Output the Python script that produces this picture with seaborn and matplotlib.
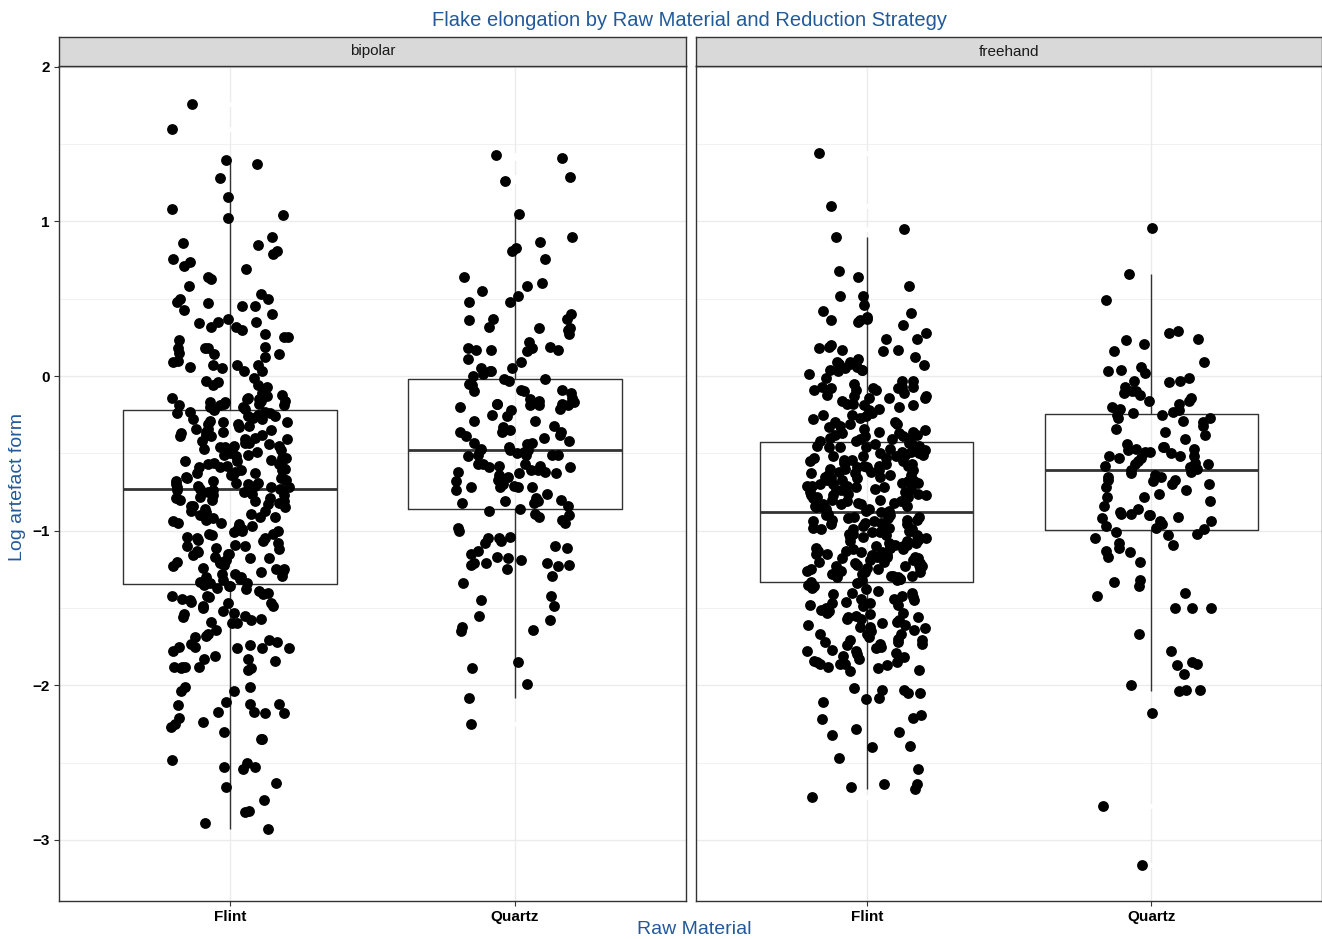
import numpy as np
import pandas as pd
import matplotlib
matplotlib.use("Agg")
import matplotlib.pyplot as plt
import seaborn as sns
from matplotlib.ticker import MultipleLocator

sns.set_theme(style="white")
plt.rcParams["font.family"] = ["Liberation Sans", "DejaVu Sans"]

strategies = ["bipolar", "freehand"]
materials = ["Flint", "Quartz"]

bipolar_flint = [
    1.76, 1.60, 1.40, 1.37, 1.28, 1.16, 1.08, 1.02, 1.04, 0.90,
    0.85, 0.86, 0.81, 0.79, 0.74, 0.69, 0.76, 0.71, 0.64, 0.58,
    0.53, 0.50, 0.63, 0.47, 0.43, 0.50, 0.45, 0.45, 0.48, 0.37,
    0.35, 0.40, 0.35, 0.30, 0.32, 0.25, 0.25, 0.32, 0.34, 0.27,
    0.18, 0.14, 0.15, 0.18, 0.23, 0.18, 0.19, 0.14, 0.12, 0.07,
    0.03, 0.07, 0.06, 0.05, 0.07, 0.10, 0.09, 0.03, -0.03, -0.01,
    -0.06, -0.12, -0.04, -0.06, -0.07, -0.11, -0.14, -0.13, -0.15, -0.16,
    -0.17, -0.18, -0.19, -0.20, -0.20, -0.21, -0.17, -0.19, -0.14, -0.16,
    -0.18, -0.21, -0.15, -0.19,
    -0.22, -0.23, -0.23, -0.24, -0.25, -0.26, -0.26, -0.27, -0.28, -0.28,
    -0.29, -0.30, -0.31, -0.31, -0.32, -0.33, -0.34, -0.34, -0.35, -0.36,
    -0.36, -0.37, -0.38, -0.39, -0.39, -0.40, -0.41, -0.41, -0.42, -0.43,
    -0.43, -0.44, -0.45, -0.45, -0.46, -0.47, -0.47, -0.48, -0.49, -0.49,
    -0.50, -0.51, -0.51, -0.52, -0.53, -0.53, -0.54, -0.55, -0.55, -0.56,
    -0.57, -0.57, -0.58, -0.59, -0.59, -0.60, -0.61, -0.61, -0.62, -0.63,
    -0.63, -0.64, -0.64, -0.65, -0.66, -0.66, -0.67, -0.67, -0.68, -0.68,
    -0.69, -0.69, -0.70, -0.70, -0.71, -0.71, -0.72, -0.72, -0.72, -0.73,
    -0.24, -0.30, -0.38, -0.46, -0.58,
    -0.73, -0.74, -0.74, -0.75, -0.75, -0.76, -0.77, -0.77, -0.78, -0.79,
    -0.79, -0.80, -0.81, -0.81, -0.82, -0.83, -0.84, -0.84, -0.85, -0.86,
    -0.87, -0.87, -0.88, -0.89, -0.90, -0.91, -0.91, -0.92, -0.93, -0.94,
    -0.95, -0.95, -0.96, -0.97, -0.98, -0.99, -1.00, -1.00, -1.01, -1.02,
    -1.03, -1.04, -1.05, -1.05, -1.06, -1.07, -1.08, -1.09, -1.10, -1.10,
    -1.11, -1.12, -1.13, -1.14, -1.15, -1.15, -1.16, -1.17, -1.18, -1.19,
    -1.20, -1.20, -1.21, -1.22, -1.23, -1.24, -1.25, -1.25, -1.26, -1.27,
    -1.28, -1.29, -1.30, -1.30, -1.31, -1.32, -1.33, -1.34, -1.34, -1.35,
    -0.80, -0.92, -1.02, -1.18, -1.28,
    -1.42, -1.39, -1.36, -1.41, -1.36, -1.42, -1.47, -1.46, -1.49, -1.47,
    -1.49, -1.54, -1.59, -1.53, -1.58, -1.56, -1.57, -1.60, -1.60, -1.64,
    -1.67, -1.72, -1.76, -1.73, -1.75, -1.74, -1.76, -1.71, -1.68, -1.69,
    -1.75, -1.81, -1.76, -1.84, -1.88, -1.89, -1.83, -1.89, -1.88, -1.88,
    -1.78, -1.90, -1.83, -1.88, -2.01, -2.01, -2.04, -2.04, -2.13, -2.12,
    -2.18, -2.11, -2.17, -2.17, -2.21, -2.24, -2.12, -2.18, -2.25, -2.27,
    -2.35, -2.30, -2.35, -2.50, -2.53, -2.53, -2.54, -2.48, -2.66, -2.63,
    -2.74, -2.81, -2.82, -2.93, -2.89, -1.37, -1.38, -1.40, -1.43, -1.45,
    -1.50, -1.52, -1.44, -1.55,
]

bipolar_quartz = [
    1.41, 1.43, 1.29, 1.26, 1.05, 0.90, 0.87, 0.83, 0.76, 0.81,
    0.60, 0.55, 0.64, 0.58, 0.52, 0.48, 0.48, 0.37, 0.36, 0.40,
    0.37, 0.32, 0.30, 0.31, 0.31, 0.27, 0.17, 0.17, 0.22, 0.17,
    0.16, 0.18, 0.19, 0.18, 0.11, 0.05, 0.03, 0.05, 0.01, 0.03,
    0.09, 0.00,
    -0.02, -0.03, -0.02, -0.10, -0.10, -0.09, -0.05, -0.09, -0.11, -0.06,
    -0.16, -0.14, -0.17, -0.18, -0.19, -0.19, -0.15, -0.21, -0.19, -0.20,
    -0.18, -0.18, -0.22, -0.26, -0.25, -0.29, -0.29, -0.36, -0.36, -0.36,
    -0.38, -0.39, -0.32, -0.35, -0.40, -0.46, -0.43, -0.42, -0.43, -0.47,
    -0.44, -0.48, -0.33,
    -0.51, -0.48, -0.52, -0.51, -0.48, -0.50, -0.51, -0.49, -0.51, -0.58,
    -0.57, -0.59, -0.62, -0.64, -0.61, -0.63, -0.57, -0.58, -0.62, -0.61,
    -0.59, -0.57, -0.65, -0.63, -0.68, -0.74, -0.71, -0.72, -0.72, -0.67,
    -0.72, -0.72, -0.70, -0.76, -0.82, -0.80, -0.79, -0.81, -0.81, -0.84,
    -0.82,
    -0.89, -0.91, -0.95, -0.93, -0.87, -0.98, -1.05, -1.05, -1.08, -1.04,
    -1.11, -1.13, -1.07, -1.10, -1.15, -1.17, -1.19, -1.21, -1.23, -1.21,
    -1.22, -1.25, -1.22, -1.21, -1.18, -1.29, -1.34, -1.45, -1.42, -1.49,
    -1.55, -1.62, -1.64, -1.58, -1.65, -1.85, -1.89, -1.99, -2.08, -2.25,
    -0.86, -0.90, -1.00,
]

freehand_flint = [
    1.44, 1.10, 0.95, 0.90, 0.68, 0.64, 0.58, 0.52, 0.52, 0.46,
    0.38, 0.36, 0.33, 0.36, 0.37, 0.42, 0.41, 0.35, 0.28, 0.24,
    0.20, 0.24, 0.17, 0.16, 0.17, 0.18, 0.19, 0.11, 0.08, 0.05,
    0.08, 0.09, 0.07, 0.04, 0.04, 0.09, 0.04, 0.03, -0.03, -0.07,
    -0.12, -0.05, -0.09, -0.08, -0.08, -0.09, -0.03, -0.07, -0.13, -0.08,
    -0.14, -0.09, -0.07, -0.13, -0.19, -0.19, -0.14, -0.18, -0.14, -0.20,
    -0.25, -0.24, -0.25, -0.26, -0.31, -0.18, -0.21, -0.30, -0.27, -0.36,
    -0.30, -0.31, -0.32, -0.36, -0.34, -0.35, -0.37, -0.38, -0.38, -0.39,
    -0.40, -0.40, -0.41, -0.41, -0.42, -0.42, -0.37, -0.39, -0.33, -0.28,
    -0.22, -0.16, -0.11, -0.01, 0.01, 0.12, 0.06,
    -0.43, -0.44, -0.44, -0.45, -0.45, -0.46, -0.46, -0.47, -0.47, -0.48,
    -0.48, -0.49, -0.49, -0.50, -0.50, -0.51, -0.51, -0.52, -0.52, -0.53,
    -0.53, -0.54, -0.54, -0.55, -0.55, -0.56, -0.56, -0.57, -0.57, -0.58,
    -0.58, -0.59, -0.59, -0.60, -0.60, -0.61, -0.61, -0.62, -0.62, -0.63,
    -0.63, -0.64, -0.64, -0.65, -0.65, -0.66, -0.66, -0.67, -0.67, -0.68,
    -0.68, -0.69, -0.69, -0.70, -0.70, -0.71, -0.71, -0.72, -0.72, -0.73,
    -0.73, -0.74, -0.74, -0.75, -0.75, -0.76, -0.76, -0.77, -0.77, -0.78,
    -0.78, -0.79, -0.79, -0.80, -0.80, -0.81, -0.81, -0.82, -0.82, -0.83,
    -0.83, -0.84, -0.84, -0.85, -0.85, -0.86, -0.86, -0.87, -0.87, -0.88,
    -0.46, -0.52, -0.58, -0.64, -0.71, -0.77, -0.83,
    -0.88, -0.89, -0.89, -0.90, -0.90, -0.91, -0.91, -0.92, -0.92, -0.93,
    -0.93, -0.94, -0.94, -0.95, -0.95, -0.96, -0.96, -0.97, -0.97, -0.98,
    -0.98, -0.99, -0.99, -1.00, -1.00, -1.01, -1.01, -1.02, -1.02, -1.03,
    -1.03, -1.04, -1.04, -1.05, -1.05, -1.06, -1.06, -1.07, -1.07, -1.08,
    -1.08, -1.09, -1.09, -1.10, -1.10, -1.11, -1.11, -1.12, -1.12, -1.13,
    -1.13, -1.14, -1.14, -1.15, -1.15, -1.16, -1.16, -1.17, -1.17, -1.18,
    -1.18, -1.19, -1.19, -1.20, -1.20, -1.21, -1.21, -1.22, -1.22, -1.23,
    -1.23, -1.24, -1.24, -1.25, -1.25, -1.26, -1.26, -1.27, -1.27, -1.28,
    -1.28, -1.29, -1.29, -1.30, -1.30, -1.31, -1.31, -1.32, -1.32, -1.33,
    -0.93, -0.99, -1.05, -1.11, -1.17, -1.23, -1.29,
    -1.36, -1.45, -1.48, -1.41, -1.39, -1.44, -1.48, -1.53, -1.56, -1.60,
    -1.61, -1.56, -1.54, -1.57, -1.61, -1.67, -1.44, -1.52, -1.47, -1.53,
    -1.42, -1.47, -1.58, -1.62, -1.59, -1.71, -1.71, -1.67, -1.78, -1.80,
    -1.81, -1.87, -1.88, -1.72, -1.73, -1.77, -1.82, -1.85, -1.89, -1.86,
    -1.91, -1.74, -1.73, -1.78, -1.86, -1.72, -1.70, -1.67, -1.76, -1.85,
    -1.83, -1.86, -2.03, -2.02, -2.11, -2.19, -2.22, -2.30, -2.32, -2.39,
    -2.03, -2.05, -2.08, -2.05, -2.09, -2.21, -2.28, -2.54, -2.64, -2.64,
    -2.72, -2.66, -2.67, -2.47, -2.40, -1.34, -1.35, -1.37, -1.38, -1.40,
    -1.43, -1.46, -1.50, -1.51, -1.55, -1.63, -1.64, -1.65, -1.69, -1.75,
    -1.79, -1.84, -1.90, -1.40, -1.49, -1.57, -1.62,
]

freehand_quartz = [
    0.96, 0.66, 0.49, 0.29, 0.24, 0.28, 0.23, 0.21, 0.16, 0.09,
    0.04, -0.03, -0.04, -0.03, 0.02, 0.03, 0.06, -0.01, -0.07, -0.12,
    -0.11, -0.10, -0.10, -0.16, -0.14, -0.16, -0.20, -0.21, -0.24, -0.23,
    -0.18, -0.22,
    -0.25, -0.27, -0.27, -0.25, -0.29, -0.34, -0.36, -0.44, -0.49, -0.49,
    -0.52, -0.57, -0.52, -0.48, -0.46, -0.47, -0.53, -0.53, -0.57, -0.59,
    -0.60, -0.46, -0.47, -0.52, -0.56, -0.58, -0.30, -0.32, -0.38, -0.41,
    -0.50, -0.55,
    -0.62, -0.65, -0.68, -0.65, -0.72, -0.70, -0.67, -0.67, -0.78, -0.78,
    -0.76, -0.74, -0.81, -0.89, -0.86, -0.90, -0.90, -0.88, -0.89, -0.92,
    -0.94, -0.94, -0.97, -0.91, -0.64, -0.61, -0.63, -0.70, -0.84, -0.96,
    -0.98, -0.99,
    -1.01, -1.05, -1.02, -1.14, -1.20, -1.13, -1.11, -1.08, -1.09, -1.17,
    -1.33, -1.32, -1.36, -1.42, -1.50, -1.50, -1.40, -1.50, -1.67, -1.78,
    -1.85, -1.87, -1.86, -1.93, -2.04, -2.03, -2.03, -2.00, -2.18, -2.78,
    -3.16, -1.03,
]

groups = {
    ("bipolar", "Flint"): bipolar_flint,
    ("bipolar", "Quartz"): bipolar_quartz,
    ("freehand", "Flint"): freehand_flint,
    ("freehand", "Quartz"): freehand_quartz,
}
rows = []
for (strat, mat), vals in groups.items():
    for v in vals:
        rows.append((strat, mat, v))
df = pd.DataFrame(rows, columns=["strategy", "material", "elongation"])

BLUE = "#22599a"
DARK = "#333333"
W, H = 1322, 939

def frac(l, t, r, b):
    return [l / W, 1 - b / H, (r - l) / W, (b - t) / H]

np.random.seed(11)
fig = plt.figure(figsize=(13.22, 9.39), dpi=100)
panels = [(59, 686), (696, 1322)]
axes = []
for (l, r), strat in zip(panels, strategies):
    ax = fig.add_axes(frac(l, 66, r, 901))
    axes.append(ax)
    sub = df[df["strategy"] == strat]
    sns.stripplot(data=sub, x="material", y="elongation", order=materials,
                  jitter=0.21, color="black", size=7.8, linewidth=0, ax=ax)
    sns.boxplot(data=sub, x="material", y="elongation", order=materials,
                width=0.75, fill=False, color=DARK, linewidth=1.0,
                showcaps=False, whis=1.5,
                flierprops=dict(marker="o", markerfacecolor="white",
                                markeredgecolor="white", markersize=2.5),
                medianprops=dict(linewidth=2.0, color=DARK), ax=ax)
    for ln in ax.lines:
        if ln.get_marker() == "o":
            ln.set_zorder(0.7)
    ax.set_xlim(-0.6, 1.6)
    ax.set_ylim(-3.395, 2.005)
    ax.yaxis.set_major_locator(MultipleLocator(1))
    ax.yaxis.set_minor_locator(MultipleLocator(0.5))
    ax.set_axisbelow(True)
    ax.grid(which="major", color="#ebebeb", linewidth=1.0)
    ax.grid(which="minor", axis="y", color="#ebebeb", linewidth=0.5)
    for s in ax.spines.values():
        s.set_visible(True)
        s.set_color(DARK)
        s.set_linewidth(1.0)
    ax.set_xlabel("")
    ax.set_ylabel("")
    ax.tick_params(axis="both", which="major", length=3.5, width=0.8,
                   color=DARK, labelsize=11, labelcolor="black", pad=3,
                   bottom=True, left=True)
    ax.tick_params(which="minor", length=0)
    for lab in ax.get_xticklabels() + ax.get_yticklabels():
        lab.set_fontweight("bold")

    sax = fig.add_axes(frac(l, 37, r, 66))
    sax.set_facecolor("#d9d9d9")
    sax.set_xticks([])
    sax.set_yticks([])
    for s in sax.spines.values():
        s.set_color(DARK)
        s.set_linewidth(1.0)
    sax.text(0.5, 0.5, strat, ha="center", va="center", fontsize=11,
             color="#1a1a1a", transform=sax.transAxes)

axes[1].tick_params(axis="y", labelleft=False, left=False)

fig.text(690 / W, 1 - 20 / H, "Flake elongation by Raw Material and Reduction Strategy",
         ha="center", va="center", color=BLUE, fontsize=14.5)
fig.text(694 / W, 1 - 930 / H, "Raw Material", ha="center", va="center",
         color=BLUE, fontsize=14)
fig.text(18 / W, 1 - 487 / H, "Log artefact form", ha="center", va="center",
         rotation=90, color=BLUE, fontsize=14)

fig.savefig("out.png", dpi=100)
